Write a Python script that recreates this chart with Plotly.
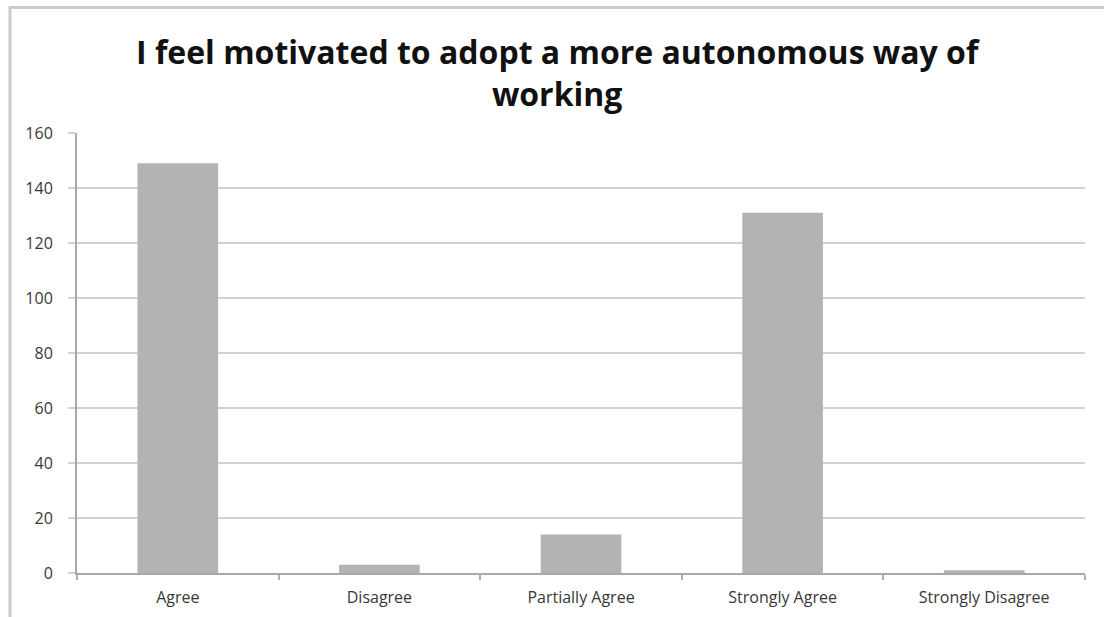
import plotly.graph_objects as go

# Survey responses
categories = ["Agree", "Disagree", "Partially Agree", "Strongly Agree", "Strongly Disagree"]
counts = [149, 3, 14, 131, 1]
y_ticks = [0, 20, 40, 60, 80, 100, 120, 140, 160]

W, H = 1104, 617
ML, MR, MT, MB = 77, 19, 133, 44

fig = go.Figure(
    go.Bar(
        x=categories,
        y=counts,
        width=0.4,
        marker=dict(color="#b3b3b3", line=dict(width=0)),
        hoverinfo="x+y",
    )
)

pw = W - ML - MR
ph = H - MT - MB

def px_to_paper_x(px):
    return (px - ML) / pw

def px_to_paper_y(py):
    return (H - MB - py) / ph

# outer chart frame (top and left edges)
frame_color = "#cbcbcb"
fig.add_shape(type="line", xref="paper", yref="paper",
              x0=px_to_paper_x(9.5), x1=px_to_paper_x(W + 5),
              y0=px_to_paper_y(7.5), y1=px_to_paper_y(7.5),
              line=dict(color=frame_color, width=3), layer="above")
fig.add_shape(type="line", xref="paper", yref="paper",
              x0=px_to_paper_x(10), x1=px_to_paper_x(10),
              y0=px_to_paper_y(6), y1=px_to_paper_y(H + 5),
              line=dict(color=frame_color, width=3), layer="above")

fig.add_annotation(
    text="<b>I feel motivated to adopt a more autonomous way of<br>working</b>",
    xref="paper", yref="paper",
    x=px_to_paper_x(558), y=px_to_paper_y(28),
    xanchor="center", yanchor="top",
    showarrow=False,
    font=dict(family="Open Sans", size=32, color="#111111"),
    align="center",
)

tick_font = dict(family="Open Sans", size=16, color="#383838")

fig.update_layout(
    width=W, height=H,
    margin=dict(l=ML, r=MR, t=MT, b=MB, pad=0, autoexpand=False),
    paper_bgcolor="white",
    plot_bgcolor="white",
    showlegend=False,
    font=tick_font,
    bargap=0.6,
)

fig.update_xaxes(
    type="category",
    automargin=False,
    showgrid=False,
    showline=True, linecolor="#a9a9a9", linewidth=2,
    ticks="outside", tickson="boundaries", ticklen=5, tickcolor="#b0b0b0", tickwidth=2,
    tickfont=tick_font,
    ticklabelstandoff=9,
    fixedrange=True,
)
fig.update_yaxes(
    range=[0, 160],
    tickvals=y_ticks,
    automargin=False,
    showgrid=True, gridcolor="#d2d2d2", gridwidth=2,
    zeroline=False,
    showline=True, linecolor="#a9a9a9", linewidth=2,
    ticks="outside", ticklen=7, tickcolor="#d2d2d2", tickwidth=2,
    tickfont=tick_font,
    ticklabelstandoff=12,
    fixedrange=True,
)

fig.write_html("out.html")
